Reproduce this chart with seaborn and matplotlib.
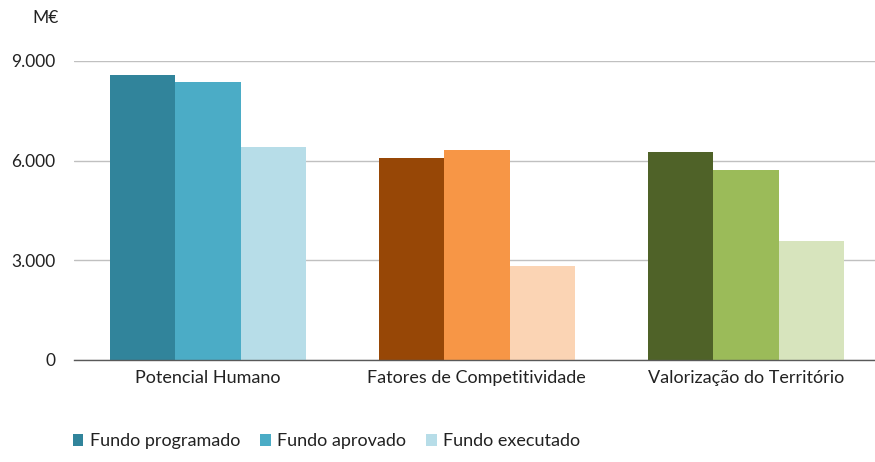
import pandas as pd
import seaborn as sns
import matplotlib.pyplot as plt
from matplotlib.patches import Patch
from matplotlib.ticker import FuncFormatter

categorias = ["Potencial Humano", "Fatores de Competitividade", "Valorização do Território"]
series = ["Fundo programado", "Fundo aprovado", "Fundo executado"]
programado = [8590, 6080, 6260]
aprovado = [8380, 6330, 5720]
executado = [6420, 2840, 3590]

cores = {
    "Potencial Humano": ["#31849B", "#4BACC6", "#B7DDE8"],
    "Fatores de Competitividade": ["#974706", "#F79646", "#FBD4B4"],
    "Valorização do Território": ["#4F6228", "#9BBB59", "#D7E4BD"],
}

df = pd.DataFrame({
    "categoria": categorias * 3,
    "serie": [s for s in series for _ in categorias],
    "valor": programado + aprovado + executado,
})

sns.set_theme(style="white")
plt.rcParams["font.family"] = ["Lato", "DejaVu Sans"]

fig = plt.figure(figsize=(8.75, 4.62), dpi=100)
ax = fig.add_axes([0.084, 0.221, 0.922, 0.647])

sns.barplot(data=df, x="categoria", y="valor", hue="serie", order=categorias,
            hue_order=series, width=0.73, saturation=1, ax=ax, legend=False)

for j, cont in enumerate(ax.containers):
    for i, bar in enumerate(cont):
        bar.set_facecolor(cores[categorias[i]][j])
        bar.set_edgecolor("none")

ax.set_ylim(0, 9000)
ax.set_xlim(-0.5, 2.5)
ax.set_yticks([0, 3000, 6000, 9000])
ax.yaxis.set_major_formatter(FuncFormatter(lambda v, p: f"{int(v):,}".replace(",", ".")))
ax.grid(axis="y", color="#C0C0C0", linewidth=1)
ax.set_axisbelow(True)
for s in ["top", "right", "left"]:
    ax.spines[s].set_visible(False)
ax.spines["bottom"].set_color("#595959")
ax.spines["bottom"].set_linewidth(1)
ax.tick_params(axis="x", length=0, labelsize=13, colors="#222222", pad=7)
ax.tick_params(axis="y", length=0, labelsize=12.5, colors="#222222", pad=13)
ax.set_xlabel("")
ax.set_ylabel("")

fig.text(0.037, 0.961, "M€", fontsize=12.5, color="#222222", va="center")

handles = [Patch(facecolor=c, edgecolor="none") for c in cores["Potencial Humano"]]
fig.legend(handles, series, loc="center left", bbox_to_anchor=(0.083, 0.045), ncol=3,
           frameon=False, fontsize=13, handlelength=0.6, handleheight=0.6,
           handletextpad=0.35, borderpad=0, borderaxespad=0, columnspacing=1.1,
           labelcolor="#222222")

fig.savefig("out.png", dpi=100)
